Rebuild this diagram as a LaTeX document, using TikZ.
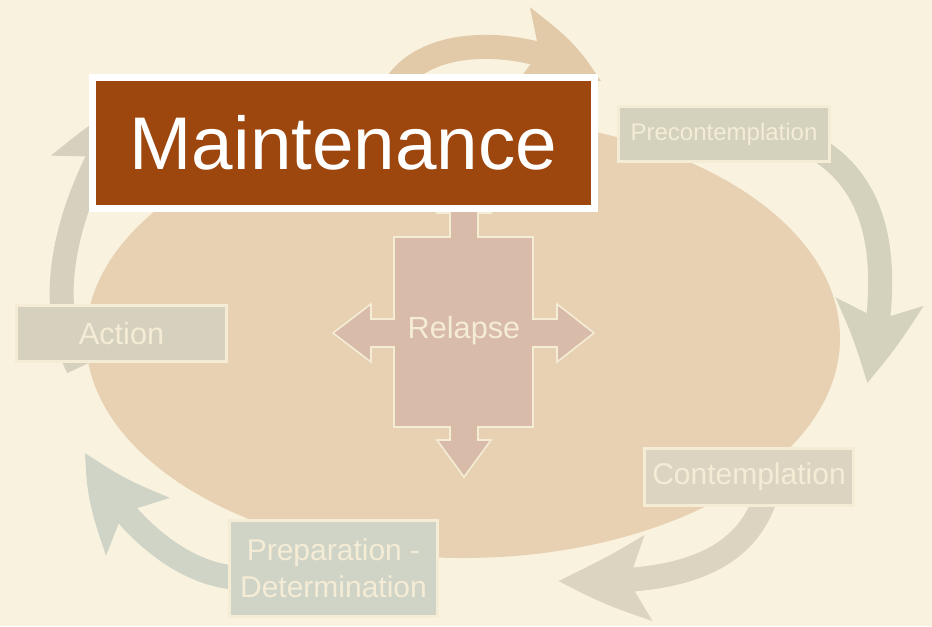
\documentclass[tikz,border=0pt]{standalone}
\usepackage{fontspec}
\setmainfont{Liberation Sans}
\usetikzlibrary{arrows.meta,bending}

\definecolor{bgcream}{HTML}{F8F2DF}
\definecolor{blob}{HTML}{E8D1B2}
\definecolor{maintbrown}{HTML}{9D470E}
\definecolor{relapsefill}{HTML}{D9BBAA}
\definecolor{palecream}{HTML}{F5ECD6}
\definecolor{tanarrow}{HTML}{E2C9A8}
\definecolor{precol}{HTML}{D4D2BC}
\definecolor{contcol}{HTML}{DCD4C1}
\definecolor{prepcol}{HTML}{CFD4C7}
\definecolor{actcol}{HTML}{D6D0BF}

\tikzset{
  stage/.style={draw=palecream, line width=2pt, text=palecream, inner sep=0pt, align=center},
  cyc/.style={line width=18pt, -{Stealth[length=60pt,width=64pt,inset=12pt,bend]}},
}

\begin{document}
\begin{tikzpicture}[x=0.75pt,y=-0.75pt]
\useasboundingbox (0,0) rectangle (932,626);
\fill[bgcream] (0,0) rectangle (932,626);
\fill[blob] (463,338) ellipse [x radius=377, y radius=220];

% ends of the cycle arrows
\coordinate (a1s) at (390,95);
\coordinate (a1e) at (600,82);
\coordinate (a2s) at (810,145);
\coordinate (a2e) at (867,383);
\coordinate (a3s) at (768,488);
\coordinate (a3e) at (559,581);
\coordinate (a4s) at (240,578);
\coordinate (a4e) at (86,453);
\coordinate (a5s) at (78,368);
\coordinate (a5e) at (132,99);

\draw[cyc, draw=tanarrow] (a1s) .. controls (420,28) and (540,38) .. (a1e);
\draw[cyc, draw=precol] (a2s) .. controls (895,190) and (887,295) .. (a2e);
\draw[cyc, draw=contcol] (a3s) .. controls (745,585) and (630,582) .. (a3e);
\draw[cyc, draw=prepcol] (a4s) .. controls (170,575) and (110,505) .. (a4e);
\draw[cyc, draw=actcol] (a5s) .. controls (35,280) and (85,170) .. (a5e);

% four-way arrow behind the relapse label
\filldraw[fill=relapsefill, draw=palecream, line width=1.2pt, line join=miter]
  (450,237) -- (450,213) -- (437,213) -- (464,176) -- (491,213) -- (478,213) -- (478,237)
  -- (533,237) -- (533,319) -- (557,319) -- (557,304) -- (594,333) -- (557,362) -- (557,347)
  -- (533,347) -- (533,427) -- (478,427) -- (478,440) -- (491,440) -- (464,477) -- (437,440)
  -- (450,440) -- (450,427) -- (394,427) -- (394,347) -- (371,347) -- (371,362) -- (333,333)
  -- (371,304) -- (371,319) -- (394,319) -- (394,237) -- cycle;
\node[text=palecream, font=\fontsize{23}{27}\selectfont] (relapse) at (464,331) {Relapse};

\node[draw=white, line width=5.25pt, fill=maintbrown, text=white, inner sep=0pt,
  minimum width=376.5pt, minimum height=98.25pt, font=\fontsize{56}{60}\selectfont]
  (maint) at (343.5,142.5) {Maintenance};
\node[stage, fill=precol, minimum width=158.25pt, minimum height=41.25pt,
  font=\fontsize{18}{22}\selectfont] (precont) at (724,134) {Precontemplation};
\node[stage, fill=contcol, minimum width=156.75pt, minimum height=42.75pt,
  font=\fontsize{22.5}{27}\selectfont] (cont) at (749,477) {Contemplation};
\node[stage, fill=prepcol, minimum width=156pt, minimum height=72pt,
  font=\fontsize{22.5}{27.75}\selectfont] (prep) at (333.5,568.5) {Preparation -\\Determination};
\node[stage, fill=actcol, minimum width=157.5pt, minimum height=42pt,
  font=\fontsize{23}{27}\selectfont] (action) at (121.5,333.5) {Action};
\end{tikzpicture}
\end{document}
